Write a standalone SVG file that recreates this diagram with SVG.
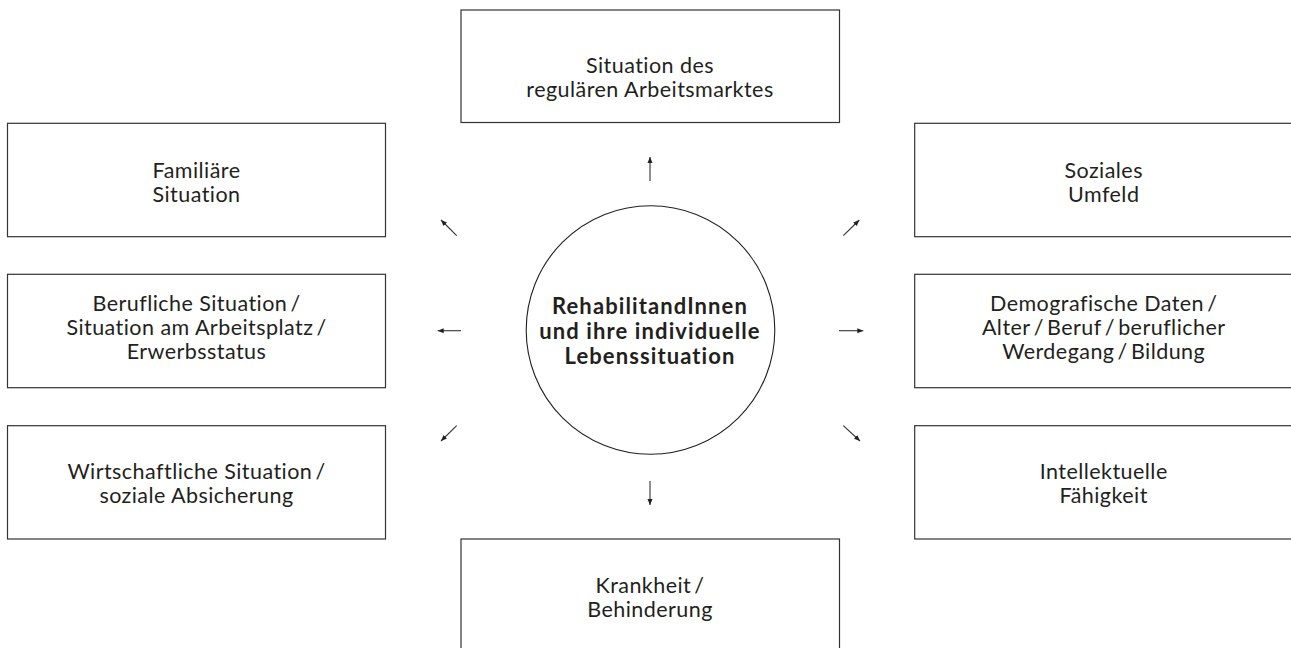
<svg xmlns="http://www.w3.org/2000/svg" width="1291" height="648" viewBox="0 0 1291 648">
<style>
.box{fill:#fff;stroke:#333;stroke-width:1.2}
.t{font-family:Lato,"Open Sans","Liberation Sans",sans-serif;font-size:21.5px;letter-spacing:0.45px;fill:#231f20;text-anchor:middle}
.b{font-family:Lato,"Open Sans","Liberation Sans",sans-serif;font-size:22px;font-weight:bold;letter-spacing:1.1px;fill:#231f20;text-anchor:middle}
.c{stroke:#333;stroke-width:1.1;fill:none;marker-end:url(#ah)}
</style>
<defs>
<marker id="ah" markerUnits="userSpaceOnUse" markerWidth="7" markerHeight="6" refX="6" refY="3" orient="auto">
<path d="M0,0.5 L6,3 L0,5.5 z" fill="#231f20"/>
</marker>
</defs>
<rect width="1291" height="648" fill="#fff"/>
<g id="center">
<circle cx="650.5" cy="330" r="124.3" fill="#fff" stroke="#231f20" stroke-width="1.1"/>
<text class="b" x="650" y="314">RehabilitandInnen<tspan x="650" dy="25">und ihre individuelle</tspan><tspan x="650" dy="25">Lebenssituation</tspan></text>
</g>
<g id="n-arbeitsmarkt">
<rect class="box" x="461" y="10" width="378.5" height="112.5"/>
<text class="t" x="650" y="72.5">Situation des<tspan x="650" dy="24">regulären Arbeitsmarktes</tspan></text>
</g>
<g id="n-familie">
<rect class="box" x="7.5" y="123.3" width="378" height="113.4"/>
<text class="t" x="196.5" y="177.5">Familiäre<tspan x="196.5" dy="24">Situation</tspan></text>
</g>
<g id="n-beruf">
<rect class="box" x="7.5" y="274.3" width="378" height="113.4"/>
<text class="t" x="196.5" y="310.5">Berufliche Situation&#8201;/<tspan x="196.5" dy="24">Situation am Arbeitsplatz&#8201;/</tspan><tspan x="196.5" dy="24">Erwerbsstatus</tspan></text>
</g>
<g id="n-wirtschaft">
<rect class="box" x="7.5" y="425.7" width="378" height="113.3"/>
<text class="t" x="196.5" y="479.3">Wirtschaftliche Situation&#8201;/<tspan x="196.5" dy="24">soziale Absicherung</tspan></text>
</g>
<g id="n-sozial">
<rect class="box" x="914.7" y="123.3" width="378" height="113.4"/>
<text class="t" x="1103.7" y="177.5">Soziales<tspan x="1103.7" dy="24">Umfeld</tspan></text>
</g>
<g id="n-demografie">
<rect class="box" x="914.7" y="274.3" width="378" height="113.4"/>
<text class="t" x="1103.7" y="310.5">Demografische Daten&#8201;/<tspan x="1103.7" dy="24">Alter&#8201;/&#8201;Beruf&#8201;/&#8201;beruflicher</tspan><tspan x="1103.7" dy="24">Werdegang&#8201;/&#8201;Bildung</tspan></text>
</g>
<g id="n-intellekt">
<rect class="box" x="914.7" y="425.7" width="378" height="113.3"/>
<text class="t" x="1103.7" y="479.3">Intellektuelle<tspan x="1103.7" dy="24">Fähigkeit</tspan></text>
</g>
<g id="n-krankheit">
<rect class="box" x="461" y="539" width="378.5" height="115"/>
<text class="t" x="650" y="592.7">Krankheit&#8201;/<tspan x="650" dy="24">Behinderung</tspan></text>
</g>
<g id="connectors">
<line class="c" x1="650" y1="181" x2="650" y2="157"/>
<line class="c" x1="650" y1="481" x2="650" y2="505"/>
<line class="c" x1="461" y1="330.7" x2="437.7" y2="330.7"/>
<line class="c" x1="839" y1="330.7" x2="863.3" y2="330.7"/>
<line class="c" x1="456.7" y1="235.7" x2="441" y2="220"/>
<line class="c" x1="843.3" y1="235.7" x2="859.3" y2="220"/>
<line class="c" x1="456.7" y1="425.7" x2="441" y2="441"/>
<line class="c" x1="843.3" y1="425.7" x2="860" y2="441"/>
</g>
</svg>
